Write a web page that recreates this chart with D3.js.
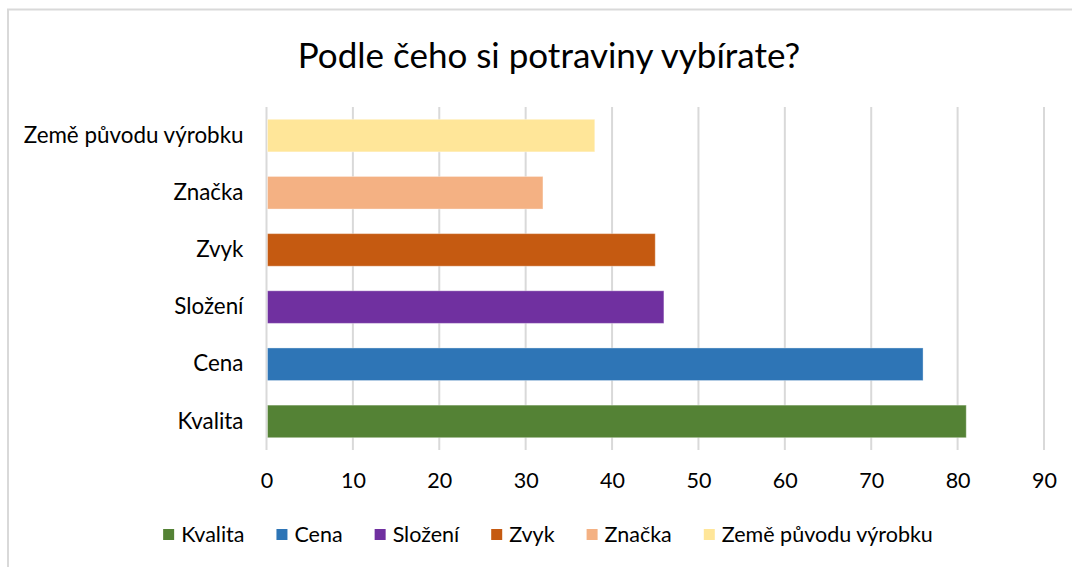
<!DOCTYPE html>
<html>
<head>
<meta charset="utf-8">
<script src="https://cdn.jsdelivr.net/npm/d3@7"></script>
<style>
  body { margin: 0; background: #fff; }
  text { font-family: Lato, "Open Sans", sans-serif; fill: #000; }
</style>
</head>
<body>
<div id="chart"></div>
<script>
// data (bottom to top as drawn)
var categories = ["Kvalita", "Cena", "Složení", "Zvyk", "Značka", "Země původu výrobku"];
var values = [81, 76, 46, 45, 32, 38];
var colors = ["#548235", "#2E75B6", "#7030A0", "#C55A11", "#F4B183", "#FFE699"];
var xTicks = [0, 10, 20, 30, 40, 50, 60, 70, 80, 90];
var title = "Podle čeho si potraviny vybírate?";

var svgWidth = 1072;
var svgHeight = 567;

var margin = { top: 107, right: 28, bottom: 117, left: 266.5 };
var width = svgWidth - margin.left - margin.right;
var height = svgHeight - margin.top - margin.bottom;

var data = categories.map(function(c, i) {
  return { name: c, value: values[i], color: colors[i] };
});

var svg = d3.select("#chart")
  .append("svg")
  .attr("width", svgWidth)
  .attr("height", svgHeight);

// chart border
svg.append("rect")
  .attr("x", 8)
  .attr("y", 9.5)
  .attr("width", svgWidth)
  .attr("height", svgHeight)
  .attr("fill", "none")
  .attr("stroke", "#d9d9d9")
  .attr("stroke-width", 2);

svg.append("text")
  .attr("x", 549)
  .attr("y", 68)
  .attr("text-anchor", "middle")
  .style("font-size", "35px")
  .text(title);

var chartGroup = svg.append("g")
  .attr("transform", `translate(${margin.left}, ${margin.top})`);

var xScale = d3.scaleLinear()
  .domain([0, 90])
  .range([0, width]);

// top of the chart is the last category
var yScale = d3.scaleBand()
  .domain(categories.slice().reverse())
  .range([0, height])
  .paddingInner(0.43)
  .paddingOuter(0.215);

// gridlines
chartGroup.append("g")
  .selectAll("line")
  .data(xTicks)
  .enter()
  .append("line")
  .attr("x1", d => xScale(d))
  .attr("x2", d => xScale(d))
  .attr("y1", 0)
  .attr("y2", height)
  .attr("stroke", "#d9d9d9")
  .attr("stroke-width", 2);

// bars
chartGroup.selectAll("rect.bar")
  .data(data)
  .enter()
  .append("rect")
  .attr("class", "bar")
  .attr("x", xScale(0) + 1)
  .attr("y", d => yScale(d.name))
  .attr("width", d => xScale(d.value) - xScale(0) - 1)
  .attr("height", yScale.bandwidth())
  .attr("fill", d => d.color)
  .attr("stroke", "rgba(255,255,255,0.35)")
  .attr("stroke-width", 1);

// x axis labels
var bottomAxis = d3.axisBottom(xScale)
  .tickValues(xTicks)
  .tickSize(0)
  .tickPadding(23);

var xAxis = chartGroup.append("g")
  .attr("transform", `translate(0, ${height})`)
  .call(bottomAxis);
xAxis.select(".domain").remove();
xAxis.selectAll("text")
  .style("font-size", "21.5px")
  .style("font-family", "Lato, sans-serif")
  .attr("fill", "#000");

// y axis labels
var leftAxis = d3.axisLeft(yScale)
  .tickSize(0)
  .tickPadding(23);

var yAxis = chartGroup.append("g")
  .call(leftAxis);
yAxis.select(".domain").remove();
yAxis.selectAll("text")
  .style("font-size", "22.4px")
  .style("font-family", "Lato, sans-serif")
  .attr("fill", "#000");

// legend
var legend = svg.append("g");
var legendItems = legend.selectAll("g")
  .data(data)
  .enter()
  .append("g");

legendItems.append("rect")
  .attr("width", 11)
  .attr("height", 11)
  .attr("y", 529)
  .attr("fill", d => d.color);

legendItems.append("text")
  .attr("x", 18)
  .attr("y", 542)
  .style("font-size", "21.5px")
  .text(d => d.name);

var xPos = 0;
legendItems.each(function() {
  var w = d3.select(this).select("text").node().getComputedTextLength();
  d3.select(this).attr("transform", `translate(${xPos}, 0)`);
  xPos += 18 + w + 32;
});
var totalWidth = xPos - 32;
legend.attr("transform", `translate(${548 - totalWidth / 2}, 0)`);
</script>
</body>
</html>
